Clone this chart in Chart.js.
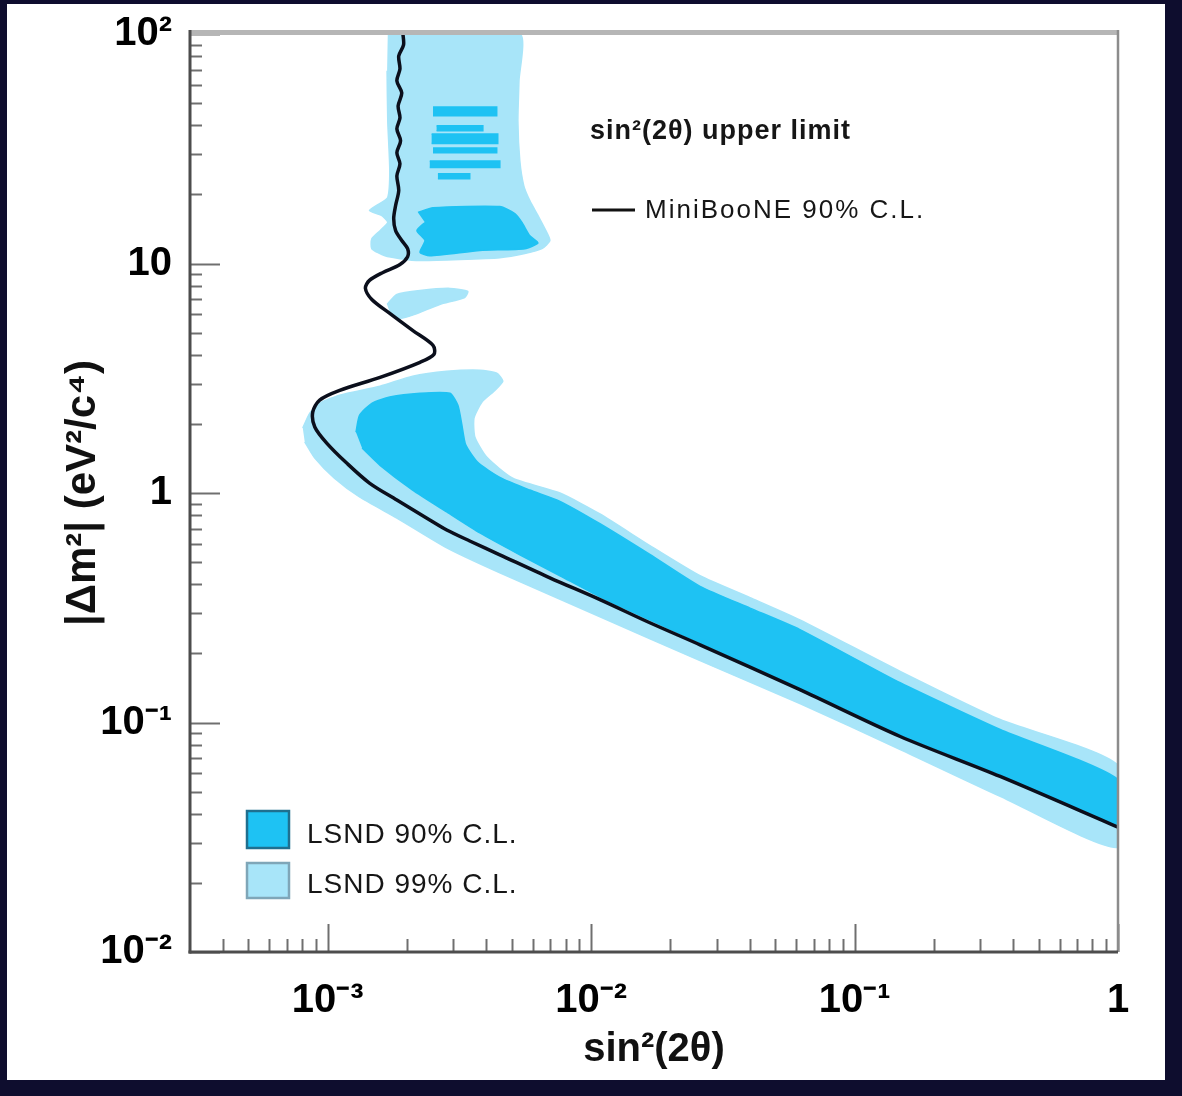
<!DOCTYPE html>
<html>
<head>
<meta charset="utf-8">
<script src="https://cdn.jsdelivr.net/npm/chart.js@4.4.1/dist/chart.umd.min.js"></script>
<style>
  html, body { margin: 0; padding: 0; }
  body { width: 1182px; height: 1096px; background: #0e0d2e; position: relative; overflow: hidden; }
  #panel { position: absolute; left: 7px; top: 4px; width: 1158px; height: 1076px; background: #fff; }
  #chart { position: absolute; left: 0; top: 0; }
</style>
</head>
<body>
<div id="panel"></div>
<canvas id="chart" width="1182" height="1096"></canvas>
<script>
// axis ticks
const xTickValues = [1e-3, 1e-2, 1e-1, 1];
const xTickLabels = ['10⁻³', '10⁻²', '10⁻¹', '1'];
const yTickValues = [1e-2, 1e-1, 1, 10, 100];
const yTickLabels = ['10⁻²', '10⁻¹', '1', '10', '10²'];

// MiniBooNE 90% C.L. limit curve, [sin²(2θ), Δm² eV²]
const minibooneLimit = [
  [1.93e-3, 100], [1.94e-3, 89.6], [1.86e-3, 80.2], [1.88e-3, 70.4], [1.83e-3, 62.5],
  [1.91e-3, 55.4], [1.85e-3, 48.6], [1.88e-3, 43.1], [1.83e-3, 38.6], [1.89e-3, 34.3],
  [1.83e-3, 30.4], [1.88e-3, 27.2], [1.83e-3, 24.1], [1.86e-3, 20.8], [1.81e-3, 17.9],
  [1.78e-3, 15.7], [1.81e-3, 13.9], [1.91e-3, 12.6], [2.01e-3, 11.6], [2.01e-3, 10.7],
  [1.88e-3, 9.90], [1.62e-3, 9.14], [1.44e-3, 8.44], [1.39e-3, 7.79], [1.47e-3, 6.97],
  [1.72e-3, 6.06], [2.10e-3, 5.11], [2.51e-3, 4.40], [2.53e-3, 4.02], [2.24e-3, 3.71],
  [1.58e-3, 3.19], [1.11e-3, 2.80], [9.32e-4, 2.54], [8.77e-4, 2.25], [8.93e-4, 1.94],
  [9.91e-4, 1.65], [1.18e-3, 1.35], [1.44e-3, 1.105], [1.83e-3, 0.932], [2.44e-3, 0.763],
  [2.83e-3, 0.690], [3.46e-3, 0.618], [4.50e-3, 0.538], [6.97e-3, 0.427], [1.08e-2, 0.343],
  [1.67e-2, 0.272], [2.59e-2, 0.218], [6.20e-2, 0.139], [0.149, 0.0869], [0.357, 0.0582],
  [1.0, 0.0350]
];

// LSND 99% C.L. regions (closed outlines)
const lsnd99Column = [
  [1.69e-3, 100], [5.36e-3, 100], [5.32e-3, 62.5], [5.27e-3, 41.8], [5.36e-3, 28.0],
  [5.55e-3, 21.8], [5.85e-3, 18.8], [6.28e-3, 16.2], [6.67e-3, 14.2], [6.97e-3, 12.6],
  [6.50e-3, 11.6], [5.60e-3, 11.05], [4.50e-3, 10.6], [3.17e-3, 10.4], [2.24e-3, 10.3],
  [1.88e-3, 10.5], [1.65e-3, 10.8], [1.47e-3, 11.6], [1.47e-3, 12.8], [1.58e-3, 13.9],
  [1.69e-3, 15.1], [1.60e-3, 16.2], [1.44e-3, 17.0], [1.55e-3, 18.05], [1.69e-3, 19.4],
  [1.72e-3, 25.4], [1.69e-3, 41.8], [1.68e-3, 69.1]
];
const lsnd99Patch = [
  [1.68e-3, 6.63], [1.83e-3, 7.33], [2.24e-3, 7.63], [2.91e-3, 7.79], [3.40e-3, 7.55],
  [3.31e-3, 7.11], [2.66e-3, 6.63], [2.14e-3, 6.00], [1.88e-3, 5.77], [1.72e-3, 6.12]
];
const lsnd99Band = [
  [8.04e-4, 1.92], [8.55e-4, 2.23], [9.32e-4, 2.46], [1.11e-3, 2.67], [1.58e-3, 2.92],
  [2.10e-3, 3.23], [2.83e-3, 3.39], [3.78e-3, 3.43], [4.38e-3, 3.33], [4.62e-3, 3.07],
  [4.31e-3, 2.80], [3.85e-3, 2.49], [3.59e-3, 2.12], [3.62e-3, 1.75], [4.02e-3, 1.43],
  [5.04e-3, 1.16], [7.61e-3, 1.00], [1.08e-2, 0.810], [1.67e-2, 0.590], [2.59e-2, 0.436],
  [4.01e-2, 0.350], [6.20e-2, 0.280], [0.149, 0.167], [0.357, 0.103], [1.0, 0.065],
  [1.0, 0.0286], [0.357, 0.0477], [0.149, 0.0763], [6.20e-2, 0.121], [2.59e-2, 0.186],
  [1.08e-2, 0.289], [4.50e-3, 0.449], [2.83e-3, 0.577], [1.83e-3, 0.778], [1.32e-3, 0.961],
  [1.06e-3, 1.16], [8.93e-4, 1.42], [8.18e-4, 1.67]
];

// LSND 90% C.L. regions
const lsnd90Patch = [
  [2.20e-3, 16.7], [2.51e-3, 17.5], [4.50e-3, 17.7], [5.13e-3, 16.5], [5.46e-3, 15.1],
  [5.85e-3, 13.2], [6.28e-3, 12.3], [5.60e-3, 11.6], [3.78e-3, 11.4], [2.44e-3, 10.8],
  [2.24e-3, 11.2], [2.34e-3, 12.6], [2.18e-3, 13.9], [2.34e-3, 15.1]
];
const lsnd90Band = [
  [1.28e-3, 1.84], [1.32e-3, 2.18], [1.47e-3, 2.46], [1.72e-3, 2.62], [2.24e-3, 2.72],
  [2.91e-3, 2.72], [3.12e-3, 2.41], [3.23e-3, 1.98], [3.34e-3, 1.62], [3.71e-3, 1.36],
  [4.50e-3, 1.17], [5.85e-3, 1.03], [7.61e-3, 0.920], [1.08e-2, 0.735], [1.67e-2, 0.540],
  [2.59e-2, 0.392], [4.01e-2, 0.315], [6.20e-2, 0.254], [0.149, 0.149], [0.357, 0.0932],
  [1.0, 0.0565],
  [1.0, 0.0360], [0.357, 0.0594], [0.149, 0.0887], [6.20e-2, 0.142], [2.59e-2, 0.223],
  [1.67e-2, 0.280], [1.08e-2, 0.353], [7.61e-3, 0.436], [5.36e-3, 0.538], [3.78e-3, 0.670],
  [2.83e-3, 0.827], [2.10e-3, 1.03], [1.58e-3, 1.32], [1.35e-3, 1.57]
];
// thin 90% C.L. islands inside the high-Δm² column
const stripeSinLo = [2.51e-3, 2.59e-3, 2.48e-3, 2.51e-3, 2.44e-3, 2.62e-3];
const stripeSinHi = [4.38e-3, 3.88e-3, 4.42e-3, 4.38e-3, 4.50e-3, 3.46e-3];
const stripeDmLo = [44.0, 37.9, 33.3, 30.4, 26.2, 23.4];
const stripeDmHi = [48.1, 39.8, 36.7, 31.9, 28.0, 24.6];

const DARK = '#1ec2f3';
const LIGHT = '#a8e5f9';
const FONT = '"Liberation Sans", Arial, Helvetica, sans-serif';

const toPoints = pts => pts.map(([x, y]) => ({x: x, y: y}));

function region(label, pts, color, order) {
  return {
    label: label,
    data: toPoints(pts),
    showLine: true,
    fill: 'shape',
    indexAxis: 'y',
    backgroundColor: color,
    borderColor: color,
    borderWidth: 1.5,
    pointRadius: 0,
    tension: 0.2,
    order: order
  };
}

const datasets = [
  {
    label: 'MiniBooNE 90% C.L.',
    data: toPoints(minibooneLimit),
    showLine: true,
    fill: false,
    borderColor: '#0b0f1c',
    borderWidth: 3.5,
    pointRadius: 0,
    tension: 0.3,
    order: 1
  },
  region('LSND 99% C.L.', lsnd99Column, LIGHT, 3),
  region('LSND 99% C.L.', lsnd99Patch, LIGHT, 3),
  region('LSND 99% C.L.', lsnd99Band, LIGHT, 3),
  region('LSND 90% C.L.', lsnd90Patch, DARK, 2),
  region('LSND 90% C.L.', lsnd90Band, DARK, 2)
];
stripeSinLo.forEach((lo, i) => {
  const s = region('LSND 90% C.L.', [
    [lo, stripeDmHi[i]], [stripeSinHi[i], stripeDmHi[i]],
    [stripeSinHi[i], stripeDmLo[i]], [lo, stripeDmLo[i]]
  ], DARK, 2);
  s.tension = 0;
  datasets.push(s);
});

// frame, inward ticks and the two in-plot legends
const frameAndLegend = {
  id: 'frameAndLegend',
  afterDraw(chart) {
    const ctx = chart.ctx;
    const a = chart.chartArea;
    const sx = chart.scales.x, sy = chart.scales.y;
    ctx.save();

    // minor / major ticks
    ctx.strokeStyle = '#6f6f6f';
    ctx.lineWidth = 2;
    for (let e = -4; e <= 0; e++) {
      for (let m = 1; m <= 9; m++) {
        const v = m * Math.pow(10, e);
        if (v <= sx.min * 1.0001 || v > sx.max * 1.0001) continue;
        const px = Math.round(sx.getPixelForValue(v)) + 0.5;
        const len = m === 1 ? 28 : 13;
        ctx.beginPath();
        ctx.moveTo(px, a.bottom);
        ctx.lineTo(px, a.bottom - len);
        ctx.stroke();
      }
    }
    for (let e = -2; e <= 2; e++) {
      for (let m = 1; m <= 9; m++) {
        const v = m * Math.pow(10, e);
        if (v < sy.min * 0.9999 || v > sy.max * 1.0001) continue;
        const py = Math.round(sy.getPixelForValue(v)) + 0.5;
        const len = m === 1 ? 30 : 12;
        ctx.beginPath();
        ctx.moveTo(a.left, py);
        ctx.lineTo(a.left + len, py);
        ctx.stroke();
      }
    }

    // frame
    ctx.lineCap = 'butt';
    ctx.strokeStyle = '#b6b6b6';
    ctx.lineWidth = 5;
    ctx.beginPath(); ctx.moveTo(a.left, a.top - 1.5); ctx.lineTo(a.right, a.top - 1.5); ctx.stroke();
    ctx.strokeStyle = '#8c8c8c';
    ctx.lineWidth = 2.5;
    ctx.beginPath(); ctx.moveTo(a.right, a.top - 4); ctx.lineTo(a.right, a.bottom); ctx.stroke();
    ctx.strokeStyle = '#4d4d4d';
    ctx.lineWidth = 3;
    ctx.beginPath(); ctx.moveTo(a.left, a.top - 4); ctx.lineTo(a.left, a.bottom + 1.5); ctx.stroke();
    ctx.beginPath(); ctx.moveTo(a.left - 1.5, a.bottom); ctx.lineTo(a.right, a.bottom); ctx.stroke();

    // upper-right legend
    ctx.fillStyle = '#161616';
    ctx.textBaseline = 'alphabetic';
    ctx.textAlign = 'left';
    ctx.letterSpacing = '1px';
    ctx.font = 'bold 27px ' + FONT;
    ctx.fillText('sin²(2θ) upper limit', a.left + 400, a.top + 105);
    ctx.strokeStyle = '#111';
    ctx.lineWidth = 3;
    ctx.beginPath(); ctx.moveTo(a.left + 402, a.top + 176); ctx.lineTo(a.left + 445, a.top + 176); ctx.stroke();
    ctx.letterSpacing = '2px';
    ctx.font = '26px ' + FONT;
    ctx.fillText('MiniBooNE 90% C.L.', a.left + 455, a.top + 184);

    // lower-left legend
    ctx.letterSpacing = '1px';
    ctx.lineWidth = 2.5;
    ctx.fillStyle = DARK;
    ctx.strokeStyle = '#1f6f8f';
    ctx.fillRect(a.left + 57, a.top + 777, 42, 37);
    ctx.strokeRect(a.left + 57, a.top + 777, 42, 37);
    ctx.fillStyle = LIGHT;
    ctx.strokeStyle = '#7fa6b8';
    ctx.fillRect(a.left + 57, a.top + 829, 42, 35);
    ctx.strokeRect(a.left + 57, a.top + 829, 42, 35);
    ctx.fillStyle = '#161616';
    ctx.font = '28px ' + FONT;
    ctx.fillText('LSND 90% C.L.', a.left + 117, a.top + 809);
    ctx.fillText('LSND 99% C.L.', a.left + 117, a.top + 859);
    ctx.restore();
  }
};

const tickFont = {family: FONT, size: 40, weight: 'bold'};

new Chart(document.getElementById('chart'), {
  type: 'scatter',
  data: {datasets: datasets},
  options: {
    responsive: false,
    animation: false,
    layout: {padding: {top: 33, right: 64, left: 0, bottom: 0}},
    plugins: {
      legend: {display: false},
      tooltip: {enabled: false}
    },
    scales: {
      x: {
        type: 'logarithmic',
        min: 3e-4,
        max: 1,
        grid: {display: false},
        border: {display: false},
        afterBuildTicks: scale => { scale.ticks = xTickValues.map(v => ({value: v})); },
        afterFit: scale => { scale.height = 144; },
        ticks: {
          autoSkip: false,
          maxRotation: 0,
          padding: 17,
          color: '#000',
          font: tickFont,
          callback: (value) => xTickLabels[xTickValues.indexOf(value)]
        },
        title: {
          display: true,
          text: 'sin²(2θ)',
          color: '#111',
          font: {family: FONT, size: 40, weight: 'bold'},
          padding: {top: 0, bottom: 22}
        }
      },
      y: {
        type: 'logarithmic',
        min: 0.01,
        max: 100,
        grid: {display: false},
        border: {display: false},
        afterBuildTicks: scale => { scale.ticks = yTickValues.map(v => ({value: v})); },
        afterFit: scale => { scale.width = 190; },
        ticks: {
          autoSkip: false,
          padding: 10,
          color: '#000',
          font: tickFont,
          callback: (value) => yTickLabels[yTickValues.indexOf(value)]
        },
        title: {
          display: true,
          text: '|Δm²| (eV²/c⁴)',
          color: '#111',
          font: {family: FONT, size: 42, weight: 'bold'},
          padding: {top: 58, bottom: 0}
        }
      }
    }
  },
  plugins: [frameAndLegend]
});
</script>
</body>
</html>
